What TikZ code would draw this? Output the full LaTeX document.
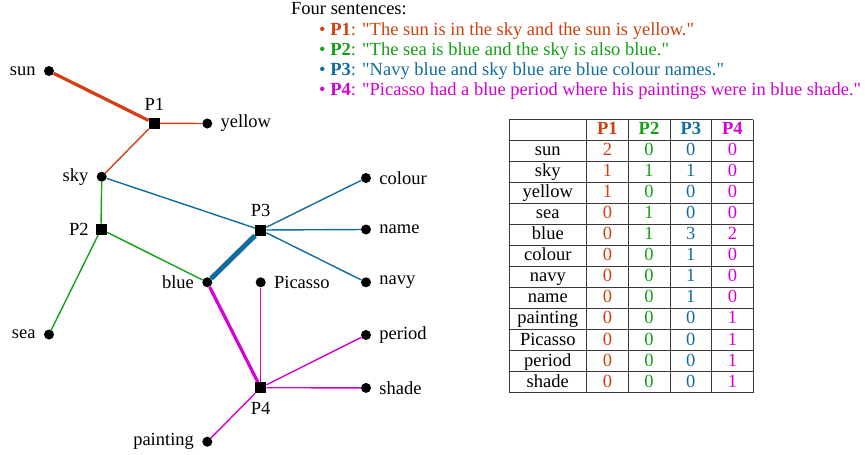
\documentclass[tikz,border=0pt]{standalone}
\usepackage{fontspec}
\setmainfont{Liberation Serif}[Ligatures=TeXOff]
\definecolor{cP1}{RGB}{208,64,16}
\definecolor{cP2}{RGB}{20,160,20}
\definecolor{cP3}{RGB}{18,108,160}
\definecolor{cP4}{RGB}{212,0,212}
\definecolor{rule}{RGB}{55,55,55}

\begin{document}
\begin{tikzpicture}[x=1pt,y=-1pt,
  every node/.style={font=\fontsize{18.5}{22}\selectfont},
  term/.style={circle,fill=black,inner sep=0pt,minimum size=10pt},
  sentence/.style={rectangle,fill=black,inner sep=0pt,minimum size=11pt},
  lab/.style={inner sep=0pt},
  tline/.style={anchor=base west,inner sep=0pt},
  cell/.style={anchor=base,inner sep=0pt},
  w1/.style={line width=1.4pt},
  w2/.style={line width=3.2pt},
  w3/.style={line width=5pt},
  tabrule/.style={draw=rule,line width=1pt}
]
\useasboundingbox (0,0) rectangle (865,455);

% ---- sentence list ----
\node[tline] (head) at (291,14) {Four sentences:};
\node[tline,text=cP1] (s1) at (319,35) {• \textbf{P1}: "The sun is in the sky and the sun is yellow."};
\node[tline,text=cP2] (s2) at (319,55.3) {• \textbf{P2}: "The sea is blue and the sky is also blue."};
\node[tline,text=cP3] (s3) at (319,75.6) {• \textbf{P3}: "Navy blue and sky blue are blue colour names."};
\node[tline,text=cP4] (s4) at (319,95.9) {• \textbf{P4}: "Picasso had a blue period where his paintings were in blue shade."};

% ---- word / sentence graph ----
\node[term,label={[lab,label distance=8pt]left:sun}] (sun) at (49,71) {};
\node[sentence,label={[lab,label distance=7pt]above:P1}] (P1) at (154.3,123.3) {};
\node[term,label={[lab,label distance=8pt]right:yellow}] (yellow) at (207.3,123.5) {};
\node[term,label={[lab,label distance=8pt]left:sky}] (sky) at (101.7,176.7) {};
\node[sentence,label={[lab,label distance=6.5pt]left:P2}] (P2) at (101,229.3) {};
\node[sentence,label={[lab,label distance=7pt]above:P3}] (P3) at (260.7,230) {};
\node[term,label={[lab,label distance=8pt]right:colour}] (colour) at (366,178) {};
\node[term,label={[lab,label distance=8pt]right:name}] (name) at (366,229.5) {};
\node[term,label={[lab,label distance=8pt]right:navy}] (navy) at (366,282.3) {};
\node[term,label={[lab,label distance=8pt]left:blue}] (blue) at (207.3,282.3) {};
\node[term,label={[lab,label distance=8pt]right:Picasso}] (picasso) at (260.7,282.3) {};
\node[term,label={[lab,label distance=8pt]left:sea}] (sea) at (49,334.5) {};
\node[term,label={[lab,label distance=8pt]right:period}] (period) at (366,335) {};
\node[sentence,label={[lab,label distance=8.5pt]below:P4}] (P4) at (260.7,387.7) {};
\node[term,label={[lab,label distance=8pt]right:shade}] (shade) at (366,387.9) {};
\node[term,label={[lab,label distance=8pt]left:painting}] (painting) at (207.3,441.7) {};

% P1 links
\draw[draw=cP1,w2] (sun) -- (P1);
\draw[draw=cP1,w1] (P1) -- (yellow);
\draw[draw=cP1,w1] (P1) -- (sky);
% P2 links
\draw[draw=cP2,w1] (sky) -- (P2);
\draw[draw=cP2,w1] (P2) -- (sea);
\draw[draw=cP2,w1] (P2) -- (blue);
% P3 links
\draw[draw=cP3,w1] (sky) -- (P3);
\draw[draw=cP3,w1] (P3) -- (colour);
\draw[draw=cP3,w1] (P3) -- (name);
\draw[draw=cP3,w1] (P3) -- (navy);
\draw[draw=cP3,w3] (P3) -- (blue);
% P4 links
\draw[draw=cP4,w2] (blue) -- (P4);
\draw[draw=cP4,w1] (picasso) -- (P4);
\draw[draw=cP4,w1] (period) -- (P4);
\draw[draw=cP4,w1] (shade) -- (P4);
\draw[draw=cP4,w1] (painting) -- (P4);

% ---- count table ----
\foreach \x in {509,586.7,628,670,711.7,753}
  \draw[tabrule] (\x,119.7) -- (\x,393);
\draw[tabrule] (509,119.7) -- (753,119.7);
\foreach \i in {0,...,12}
  \draw[tabrule] (509,140+21.08*\i) -- (753,140+21.08*\i);

\node[cell,text=cP1] (h1) at (607.4,134.8) {\textbf{P1}};
\node[cell,text=cP2] (h2) at (649,134.8) {\textbf{P2}};
\node[cell,text=cP3] (h3) at (690.8,134.8) {\textbf{P3}};
\node[cell,text=cP4] (h4) at (732.4,134.8) {\textbf{P4}};

\foreach \w/\a/\b/\c/\d [count=\i] in {
  sun/2/0/0/0, sky/1/1/1/0, yellow/1/0/0/0, sea/0/1/0/0,
  blue/0/1/3/2, colour/0/0/1/0, navy/0/0/1/0, name/0/0/1/0,
  painting/0/0/0/1, Picasso/0/0/0/1, period/0/0/0/1, shade/0/0/0/1} {
  \pgfmathsetmacro\yy{140+21.08*(\i-0.5)+4.8}
  \node[cell] (w\i) at (547.8,\yy) {\w};
  \node[cell,text=cP1] (a\i) at (607.4,\yy) {\a};
  \node[cell,text=cP2] (b\i) at (649,\yy) {\b};
  \node[cell,text=cP3] (c\i) at (690.8,\yy) {\c};
  \node[cell,text=cP4] (d\i) at (732.4,\yy) {\d};
}
\end{tikzpicture}
\end{document}
